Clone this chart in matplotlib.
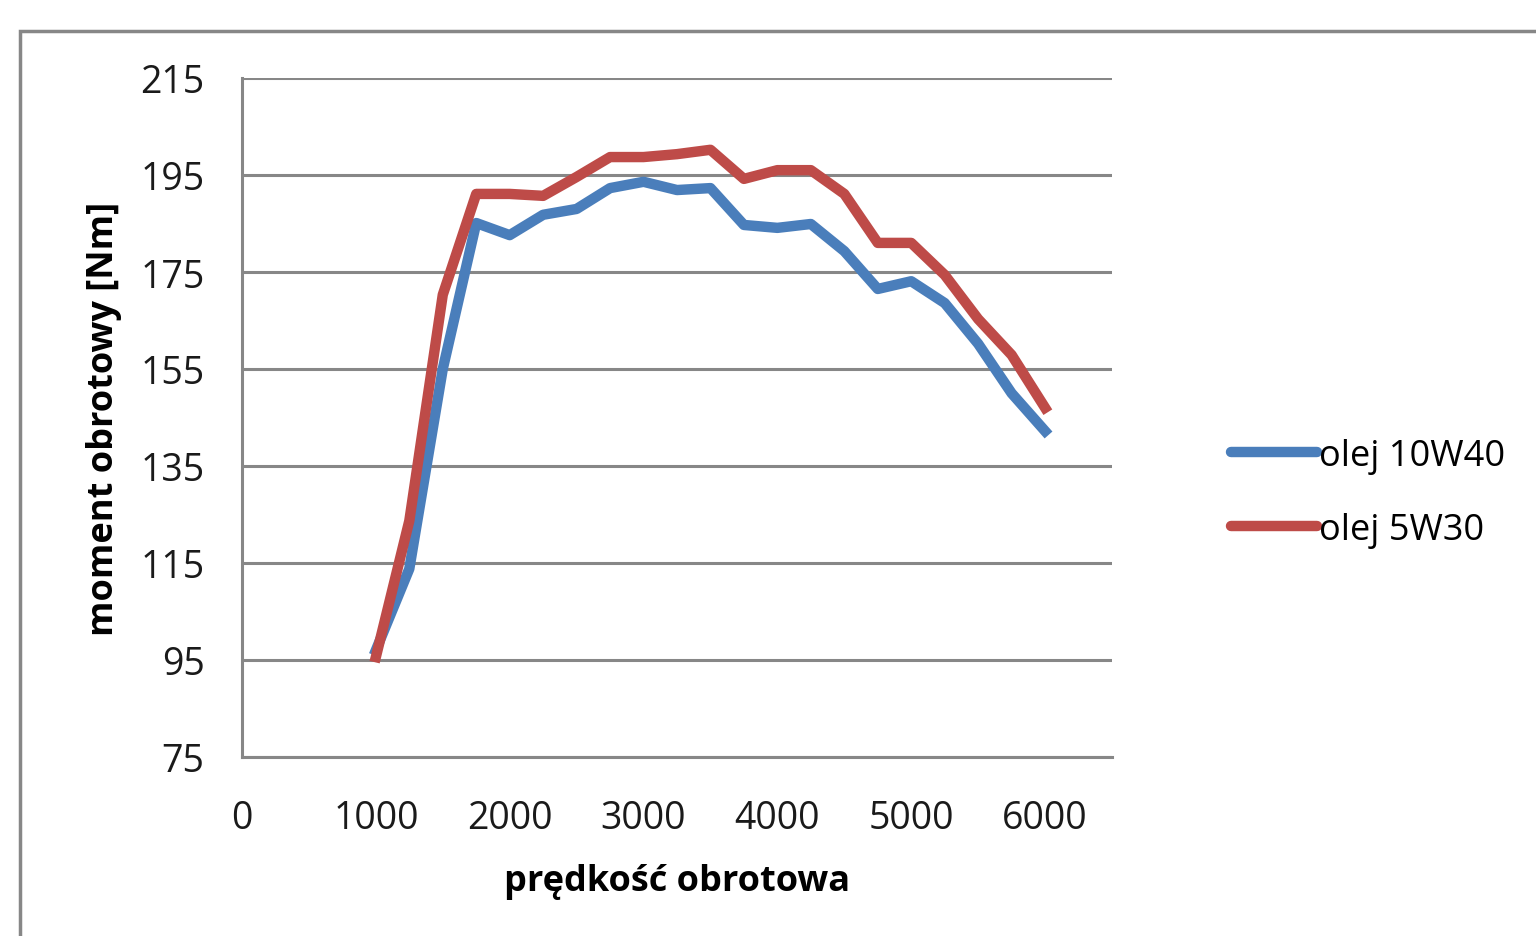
# Moment obrotowy vs predkosc obrotowa dla dwoch olejow

import numpy as np
import matplotlib.pyplot as plt
from matplotlib.patches import Rectangle

rpm = [1000, 1250, 1500, 1750, 2000, 2250, 2500, 2750, 3000, 3250, 3500,
       3750, 4000, 4250, 4500, 4750, 5000, 5250, 5500, 5750, 6000]
olej_10w40 = [97, 113.8, 155, 185.1, 182.6, 186.8, 188, 192.3, 193.6, 191.9, 192.3,
              184.7, 184.1, 184.9, 179.3, 171.5, 173.1, 168.6, 160.2, 150, 142.2]
olej_5w30 = [95.6, 123.7, 170.3, 191.1, 191.1, 190.7, 194.6, 198.7, 198.7, 199.3, 200.2,
             194.2, 196, 196, 191.1, 181, 181, 174.4, 165.3, 157.9, 147]
labels = ['olej 10W40', 'olej 5W30']
xticks = [0, 1000, 2000, 3000, 4000, 5000, 6000]
yticks = [75, 95, 115, 135, 155, 175, 195, 215]

plt.rcParams['font.family'] = ['Open Sans', 'DejaVu Sans']
grey = '#878787'

fig = plt.figure(figsize=(15.36, 9.37), dpi=100)
ax = fig.add_axes([242/1536, 1 - 758/937, (1112 - 242)/1536, (758 - 79)/937])

ax.plot(rpm, olej_10w40, color='#4a7ebb', lw=7.5, label=labels[0])
ax.plot(rpm, olej_5w30, color='#be4b48', lw=7.5, label=labels[1])

ax.set_xlim(0, 6500)
ax.set_ylim(75, 215)
ax.set_xticks(xticks)
ax.set_yticks(yticks)
ax.yaxis.grid(True, color=grey, lw=2.2)
ax.set_axisbelow(True)
for s in ['top', 'right']:
    ax.spines[s].set_visible(False)
for s in ['left', 'bottom']:
    ax.spines[s].set_color(grey)
    ax.spines[s].set_linewidth(2.2)
ax.tick_params(length=0, labelsize=27, colors='#1a1a1a')
ax.tick_params(axis='y', pad=27)
ax.tick_params(axis='x', pad=30)

ax.set_xlabel('prędkość obrotowa', fontsize=26, fontweight='bold', labelpad=19)
ax.set_ylabel('moment obrotowy [Nm]', fontsize=26, fontweight='bold', labelpad=13)

fig.legend(loc='center left', bbox_to_anchor=(1198/1536, 1 - 494/937), frameon=False,
           fontsize=26, handlelength=2.4, handletextpad=0.05, labelspacing=1.05)
for line in fig.legends[0].get_lines():
    line.set_solid_capstyle('round')

fig.patches.append(Rectangle((20/1536, -0.1), 2, 1 - 32/937 + 0.1, transform=fig.transFigure,
                             fill=False, edgecolor=grey, lw=2.5))

plt.savefig('out.png', dpi=100)
